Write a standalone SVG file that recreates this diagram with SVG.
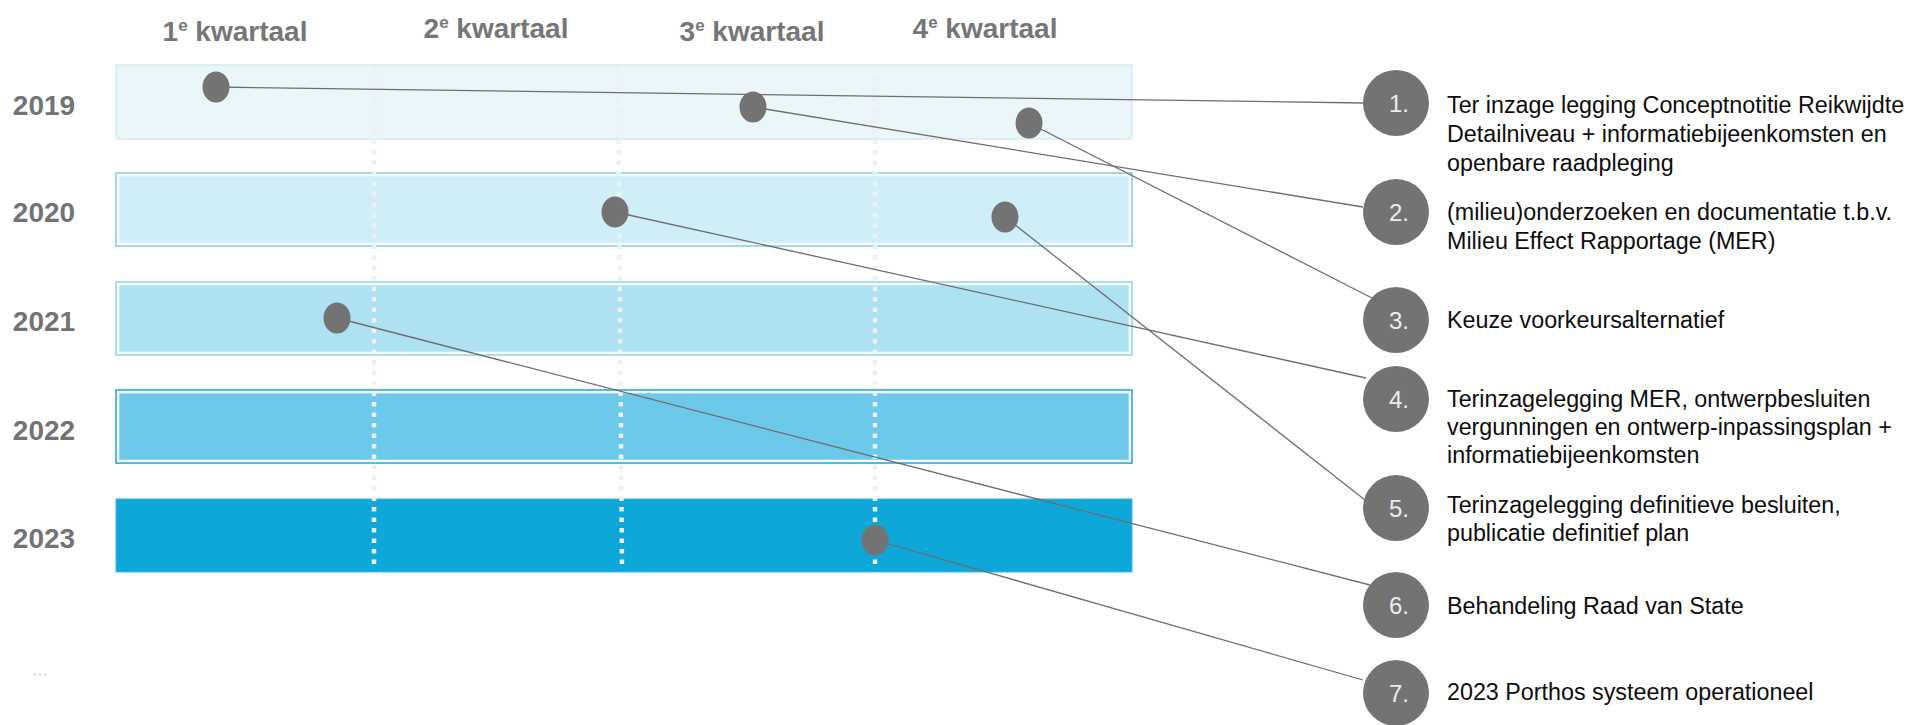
<svg xmlns="http://www.w3.org/2000/svg" width="1915" height="725" viewBox="0 0 1915 725">
<style>
.hdr{font-family:"Liberation Sans",Arial,sans-serif;font-weight:bold;font-size:28px;fill:#767676;text-anchor:middle}
.sup{font-size:17px}
.yr{font-family:"Liberation Sans",Arial,sans-serif;font-weight:bold;font-size:28px;fill:#737373;text-anchor:middle}
.dash{stroke:#EDF0F5;stroke-width:4.5;stroke-dasharray:4.5 6;fill:none}
.dot{fill:#737373}
.con{stroke:#6E6E6E;stroke-width:1.3;fill:none}
.num{fill:#737373}
.numt{font-family:"Liberation Sans",Arial,sans-serif;font-size:24px;fill:#ECECEC;text-anchor:middle}
.lbl{font-family:"Liberation Sans",Arial,sans-serif;font-size:23.3px;fill:#0D0D0D}
</style>
<rect width="1915" height="725" fill="#FFFFFF"/>
<g id="quarters">
<text class="hdr" x="235" y="41">1<tspan class="sup" dy="-10">e</tspan><tspan dy="10"> kwartaal</tspan></text>
<text class="hdr" x="496" y="38">2<tspan class="sup" dy="-10">e</tspan><tspan dy="10"> kwartaal</tspan></text>
<text class="hdr" x="752" y="41">3<tspan class="sup" dy="-10">e</tspan><tspan dy="10"> kwartaal</tspan></text>
<text class="hdr" x="985" y="38">4<tspan class="sup" dy="-10">e</tspan><tspan dy="10"> kwartaal</tspan></text>
</g>
<g id="row-2019">
<rect x="116" y="65" width="1016" height="74" fill="#EBF6FB" stroke="#C2E5F4" stroke-width="1"/>
<text class="yr" x="44" y="115">2019</text>
</g>
<g id="row-2020">
<rect x="116" y="173" width="1016" height="73" fill="none" stroke="#3AB4E4" stroke-width="1"/>
<rect x="118.5" y="175.5" width="1011" height="68" fill="#CFEEF7" stroke="#FFFFFF" stroke-width="1.5"/>
<text class="yr" x="44" y="222">2020</text>
</g>
<g id="row-2021">
<rect x="116" y="282" width="1016" height="73" fill="none" stroke="#52BEE6" stroke-width="1"/>
<rect x="118.5" y="284.5" width="1011" height="68" fill="#AEE1F2" stroke="#FFFFFF" stroke-width="1.5"/>
<text class="yr" x="44" y="331">2021</text>
</g>
<g id="row-2022">
<rect x="116" y="390" width="1016" height="73" fill="none" stroke="#16A6DC" stroke-width="1.5"/>
<rect x="118.5" y="392.5" width="1011" height="68" fill="#6DC9EA" stroke="#FFFFFF" stroke-width="1.5"/>
<text class="yr" x="44" y="440">2022</text>
</g>
<g id="row-2023">
<rect x="116" y="499" width="1016" height="73" fill="#0EA8D8" stroke="#3CB6E2" stroke-width="1"/>
<text class="yr" x="44" y="548">2023</text>
</g>
<g id="gridlines">
<line class="dash" x1="374" y1="66" x2="374" y2="568"/>
<line class="dash" x1="618" y1="66" x2="622" y2="568"/>
<line class="dash" x1="875" y1="66" x2="875" y2="568"/>
</g>
<text id="ellipsis" x="40" y="676" font-family="Liberation Sans, Arial, sans-serif" font-size="18" font-weight="bold" fill="#E4E8EE" text-anchor="middle">...</text>
<g id="connectors">
<line class="con" x1="216" y1="87" x2="1364" y2="103" stroke-width="1.8"/>
<line class="con" x1="753" y1="107" x2="1363" y2="207"/>
<line class="con" x1="1029" y1="123" x2="1372" y2="298"/>
<line class="con" x1="615" y1="212" x2="1366" y2="378"/>
<line class="con" x1="1005" y1="217" x2="1365" y2="500"/>
<line class="con" x1="337" y1="318" x2="1370" y2="585"/>
<line class="con" x1="875" y1="540" x2="1363" y2="680"/>
</g>
<g id="dot-1"><ellipse class="dot" cx="216" cy="87" rx="13.5" ry="15.5"/></g>
<g id="dot-2"><ellipse class="dot" cx="753" cy="107" rx="13.5" ry="15.5"/></g>
<g id="dot-3"><ellipse class="dot" cx="1029" cy="123" rx="13.5" ry="15.5"/></g>
<g id="dot-4"><ellipse class="dot" cx="615" cy="212" rx="13.5" ry="15.5"/></g>
<g id="dot-5"><ellipse class="dot" cx="1005" cy="217" rx="13.5" ry="15.5"/></g>
<g id="dot-6"><ellipse class="dot" cx="337" cy="318" rx="13.5" ry="15.5"/></g>
<g id="dot-7"><ellipse class="dot" cx="875" cy="540" rx="13.5" ry="15.5"/></g>
<g id="item-1">
<circle class="num" cx="1396" cy="103" r="33"/>
<text class="numt" x="1399" y="112">1.</text>
<text class="lbl" x="1447" y="113">Ter inzage legging Conceptnotitie Reikwijdte</text>
<text class="lbl" x="1447" y="142">Detailniveau + informatiebijeenkomsten en</text>
<text class="lbl" x="1447" y="171">openbare raadpleging</text>
</g>
<g id="item-2">
<circle class="num" cx="1396" cy="212" r="33"/>
<text class="numt" x="1399" y="221">2.</text>
<text class="lbl" x="1447" y="220">(milieu)onderzoeken en documentatie t.b.v.</text>
<text class="lbl" x="1447" y="249">Milieu Effect Rapportage (MER)</text>
</g>
<g id="item-3">
<circle class="num" cx="1396" cy="320" r="33"/>
<text class="numt" x="1399" y="329">3.</text>
<text class="lbl" x="1447" y="328">Keuze voorkeursalternatief</text>
</g>
<g id="item-4">
<circle class="num" cx="1396" cy="399" r="33"/>
<text class="numt" x="1399" y="408">4.</text>
<text class="lbl" x="1447" y="407">Terinzagelegging MER, ontwerpbesluiten</text>
<text class="lbl" x="1447" y="435">vergunningen en ontwerp-inpassingsplan +</text>
<text class="lbl" x="1447" y="463">informatiebijeenkomsten</text>
</g>
<g id="item-5">
<circle class="num" cx="1396" cy="508" r="33"/>
<text class="numt" x="1399" y="517">5.</text>
<text class="lbl" x="1447" y="513">Terinzagelegging definitieve besluiten,</text>
<text class="lbl" x="1447" y="541">publicatie definitief plan</text>
</g>
<g id="item-6">
<circle class="num" cx="1396" cy="605" r="33"/>
<text class="numt" x="1399" y="614">6.</text>
<text class="lbl" x="1447" y="614">Behandeling Raad van State</text>
</g>
<g id="item-7">
<circle class="num" cx="1396" cy="693" r="33"/>
<text class="numt" x="1399" y="702">7.</text>
<text class="lbl" x="1447" y="700">2023 Porthos systeem operationeel</text>
</g>
</svg>
